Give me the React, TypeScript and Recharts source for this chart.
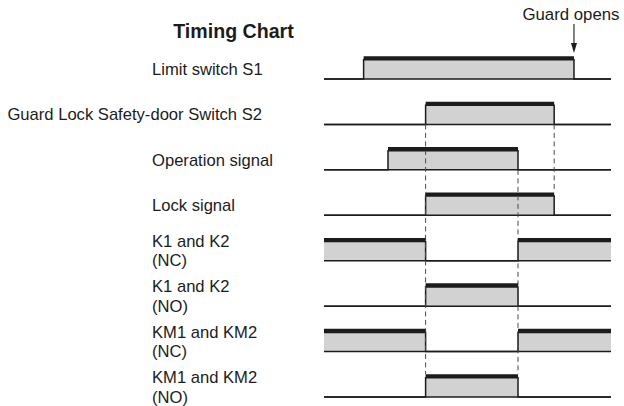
import React from 'react';
import { ComposedChart, Area, XAxis, YAxis, ReferenceLine, Customized } from 'recharts';

// Time instants at which any signal changes state (arbitrary time units, 0..100)
const times = [0, 13.8, 22.3, 35.4, 67.6, 80.2, 87.1, 100];

// Signal levels (1 = ON, 0 = OFF) held from each instant until the next one
const limitSwitchS1 = [0, 1, 1, 1, 1, 1, 0, 0];
const safetyDoorS2 = [0, 0, 0, 1, 1, 0, 0, 0];
const operationSignal = [0, 0, 1, 1, 0, 0, 0, 0];
const lockSignal = [0, 0, 0, 1, 1, 0, 0, 0];
const k1k2NC = [1, 1, 1, 0, 1, 1, 1, 1];
const k1k2NO = [0, 0, 0, 1, 0, 0, 0, 0];
const km1km2NC = [1, 1, 1, 0, 1, 1, 1, 1];
const km1km2NO = [0, 0, 0, 1, 0, 0, 0, 0];

const signalLabels = [
  ['Limit switch S1'],
  ['Guard Lock Safety-door Switch S2'],
  ['Operation signal'],
  ['Lock signal'],
  ['K1 and K2', '(NC)'],
  ['K1 and K2', '(NO)'],
  ['KM1 and KM2', '(NC)'],
  ['KM1 and KM2', '(NO)'],
];

// Dashed guide lines: [time, from row baseline, to row top]
const guideTimes = [35.4, 67.6, 80.2];
const guideFromRows = [1, 2, 1];
const guideToRows = [7, 7, 3];

const guardOpensTime = 87.1;
const title = 'Timing Chart';
const guardOpensLabel = 'Guard opens';

const signals = [
  limitSwitchS1,
  safetyDoorS2,
  operationSignal,
  lockSignal,
  k1k2NC,
  k1k2NO,
  km1km2NC,
  km1km2NO,
];

const PX = 45.43; // px per row unit
const H = 19.2 / PX; // filled pulse height in row units
const BAND = 3.6; // thick top band, px
const BAND_U = BAND / PX;
const LABEL_MID = 0.242;
const FONT = '"Liberation Sans", Arial, Helvetica, sans-serif';
const INK = '#1c1c1c';
const FILL = '#d2d2d2';

const data = times.map((t, i) => {
  const row: Record<string, any> = { t };
  signals.forEach((s, r) => {
    row['s' + r] = [r, r - s[i] * H];
  });
  return row;
});

// ON intervals per row
const pulses: { r: number; a: number; b: number }[] = [];
signals.forEach((s, r) => {
  let i = 0;
  while (i < s.length) {
    if (s[i] === 1) {
      let j = i;
      while (j < s.length && s[j] === 1) j++;
      const end = j < s.length ? times[j] : times[times.length - 1];
      pulses.push({ r, a: times[i], b: end });
      i = j;
    } else i++;
  }
});

const rowTicks = signals.map((_, r) => r - LABEL_MID);

const LabelTick = (props: any) => {
  const { y, payload } = props;
  const r = Math.round(payload.value + LABEL_MID);
  const lines = signalLabels[r] || [];
  const longLabel = lines[0] && lines[0].length > 20;
  const c = y + 1;
  const spacing = 19.5;
  return (
    <g>
      {lines.map((ln, k) => {
        const centre = c + (k - (lines.length - 1) / 2) * spacing;
        return (
          <text
            key={k}
            x={longLabel ? 262 : 152}
            y={centre + 6}
            textAnchor={longLabel ? 'end' : 'start'}
            fontFamily={FONT}
            fontSize={16.6}
            fill={INK}
          >
            {ln}
          </text>
        );
      })}
    </g>
  );
};

const ArrowShape = (props: any) => {
  const { x1, y1, y2 } = props;
  if (x1 == null) return null;
  const top = Math.min(y1, y2);
  const tip = Math.max(y1, y2);
  return (
    <g>
      <text x={x1 - 3} y={top - 4} textAnchor="middle" fontFamily={FONT} fontSize={16.8} fill={INK}>
        {guardOpensLabel}
      </text>
      <line x1={x1} y1={top} x2={x1} y2={tip - 8} stroke={INK} strokeWidth={1.1} />
      <polygon points={`${x1 - 3},${tip - 10} ${x1 + 3},${tip - 10} ${x1},${tip}`} fill={INK} />
    </g>
  );
};

const Title = () => (
  <text x={233.5} y={37.5} textAnchor="middle" fontFamily={FONT} fontWeight="bold" fontSize={19.6} fill={INK}>
    {title}
  </text>
);

export default function App() {
  return (
    <div style={{ position: 'absolute', left: 0, top: 0, width: 624, height: 406, background: '#fff' }}>
      <ComposedChart width={624} height={406} data={data} margin={{ top: 0, right: 13, bottom: 0, left: 0 }}>
        <XAxis type="number" dataKey="t" domain={[0, 100]} hide allowDataOverflow />
        <YAxis
          type="number"
          reversed
          domain={[-1.739, 7.198]}
          allowDataOverflow
          ticks={rowTicks}
          interval={0}
          width={324}
          axisLine={false}
          tickLine={false}
          tick={<LabelTick />}
        />
        {signals.map((_, r) => (
          <Area
            key={'a' + r}
            type="stepAfter"
            dataKey={'s' + r}
            fill={FILL}
            fillOpacity={1}
            stroke={INK}
            strokeWidth={1.5}
            dot={false}
            activeDot={false}
            isAnimationActive={false}
          />
        ))}
        {guideTimes.map((g, k) => (
          <ReferenceLine
            key={'g' + k}
            segment={[
              { x: g, y: guideFromRows[k] },
              { x: g, y: guideToRows[k] - H - BAND_U },
            ]}
            stroke="#4a4a4a"
            strokeWidth={1}
            strokeDasharray="5 3.5"
          />
        ))}
        {pulses.map((p, k) => (
          <ReferenceLine
            key={'p' + k}
            segment={[
              { x: p.a, y: p.r - H - BAND_U / 2 },
              { x: p.b, y: p.r - H - BAND_U / 2 },
            ]}
            stroke={INK}
            strokeWidth={BAND}
          />
        ))}
        <ReferenceLine
          segment={[
            { x: guardOpensTime, y: -1.211 },
            { x: guardOpensTime, y: -0.572 },
          ]}
          shape={<ArrowShape />}
        />
        <Customized component={Title} />
      </ComposedChart>
    </div>
  );
}
